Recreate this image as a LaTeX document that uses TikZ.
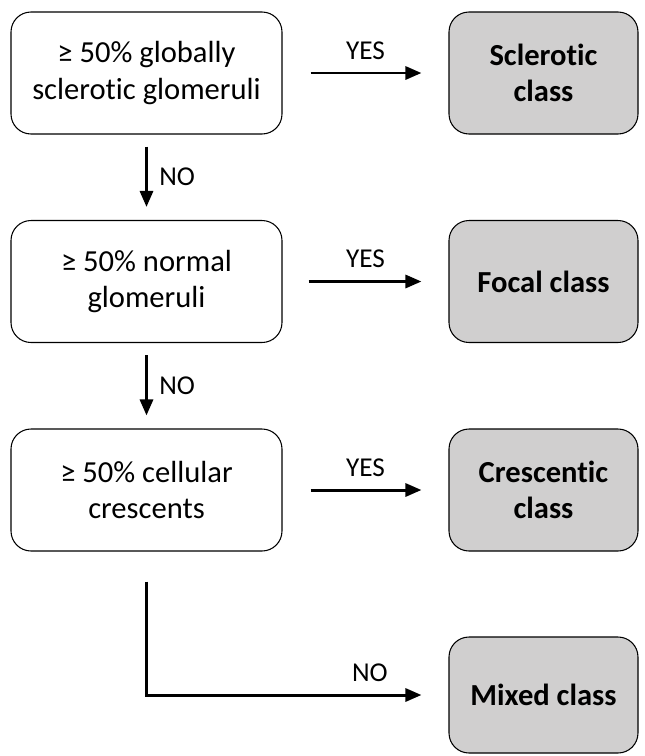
\documentclass[tikz,border=0pt]{standalone}
\usepackage{fontspec}
\setmainfont[Ligatures=NoCommon]{Carlito}
\usepackage{tikz}
\usetikzlibrary{arrows.meta}
\definecolor{classgray}{RGB}{208,207,207}

\begin{document}
\begin{tikzpicture}[
    testbox/.style={draw, line width=0.6pt, rounded corners=0.4cm, fill=white,
        minimum width=5.42cm, minimum height=2.44cm, align=center,
        font=\fontsize{17.4}{20.5}\selectfont},
    classbox/.style={draw, line width=0.6pt, rounded corners=0.4cm, fill=classgray,
        minimum width=3.78cm, minimum height=2.44cm, align=center,
        font=\bfseries\fontsize{17.4}{20.5}\selectfont},
    arr/.style={-{Triangle[length=0.32cm, width=0.26cm]}, line width=1.7pt},
    lbl/.style={font=\fontsize{15.5}{18}\selectfont, inner sep=3pt}
]
\useasboundingbox (0,0) rectangle (12.9,-15.12);

% Decision boxes
\node[testbox] (sclerotic) at (2.93,-1.46) {≥ 50\% globally\\sclerotic glomeruli};
\node[testbox] (normal) at (2.93,-5.63) {≥ 50\% normal\\glomeruli};
\node[testbox] (cellular) at (2.93,-9.8) {≥ 50\% cellular\\crescents};

% Class boxes
\node[classbox] (sclclass) at (10.87,-1.46) {Sclerotic\\class};
\node[classbox] (focclass) at (10.87,-5.63) {Focal class};
\node[classbox] (creclass) at (10.87,-9.8) {Crescentic\\class};
\node[classbox, minimum height=2.32cm] (mixclass) at (10.87,-13.9) {Mixed class};

% YES arrows
\draw[arr, shorten <=0.56cm, shorten >=0.54cm] (sclerotic) -- node[lbl, above=0.14cm] (yes1) {YES} (sclclass);
\draw[arr, shorten <=0.52cm, shorten >=0.54cm] (normal) -- node[lbl, above=0.14cm] (yes2) {YES} (focclass);
\draw[arr, shorten <=0.56cm, shorten >=0.54cm] (cellular) -- node[lbl, above=0.14cm] (yes3) {YES} (creclass);

% NO arrows
\draw[arr, shorten <=0.24cm, shorten >=0.26cm] (sclerotic) -- node[lbl, right=0.12cm] (no1) {NO} (normal);
\draw[arr, shorten <=0.24cm, shorten >=0.26cm] (normal) -- node[lbl, right=0.12cm] (no2) {NO} (cellular);
\draw[arr, shorten <=0.6cm, shorten >=0.54cm] (cellular.south) |- node[lbl, above=0.14cm, pos=0.87] (no3) {NO} (mixclass.west);
\end{tikzpicture}
\end{document}
